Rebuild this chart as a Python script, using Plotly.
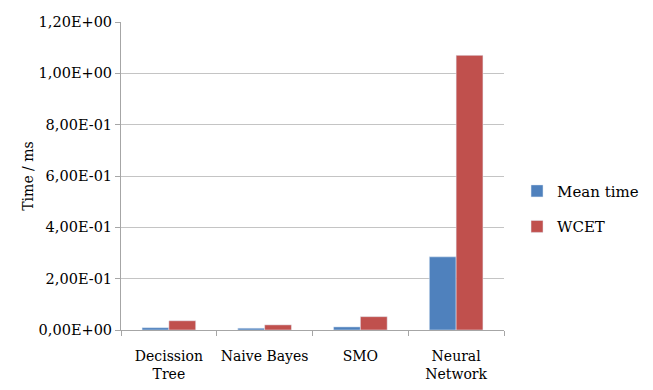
import plotly.graph_objects as go

categories = ["Decission<br>Tree", "Naive Bayes", "SMO", "Neural<br>Network"]
mean_time = [0.009, 0.007, 0.012, 0.285]
wcet = [0.036, 0.020, 0.052, 1.07]
tick_vals = [0, 0.2, 0.4, 0.6, 0.8, 1.0, 1.2]
tick_text = ["0,00E+00", "2,00E-01", "4,00E-01", "6,00E-01", "8,00E-01", "1,00E+00", "1,20E+00"]

FAM = "DejaVu Serif"
yfont = dict(family=FAM, size=14.5, color="#000000")
xfont = dict(family=FAM, size=14, color="#000000")

fig = go.Figure()
fig.add_trace(go.Bar(x=categories, y=mean_time, name="Mean time", marker_color="#4F81BD",
                     legendgroup="a"))
fig.add_trace(go.Bar(x=categories, y=wcet, name="WCET", marker_color="#C0504D",
                     legendgroup="b"))

# page has an 8px body margin, so the figure is sized/positioned to compensate
fig.update_layout(
    width=645, height=382,
    margin=dict(l=113, r=149, t=14, b=60, autoexpand=False),
    paper_bgcolor="white", plot_bgcolor="white",
    barmode="group", bargap=0.44, bargroupgap=0,
    font=yfont,
    showlegend=True,
    legend=dict(x=1.034, y=0.394, xanchor="left", yanchor="middle",
                font=dict(family=FAM, size=15, color="#000000"),
                traceorder="grouped", tracegroupgap=13, itemwidth=30),
    xaxis=dict(showline=True, linecolor="#a6a6a6", linewidth=1,
               ticks="outside", tickson="boundaries", ticklen=5, tickcolor="#a6a6a6",
               tickfont=xfont, tickangle=0, ticklabelstandoff=13, automargin=False),
    yaxis=dict(range=[0, 1.2], tickvals=tick_vals, ticktext=tick_text,
               showline=True, linecolor="#a6a6a6", linewidth=1,
               ticks="outside", ticklen=5, tickcolor="#a6a6a6",
               showgrid=True, gridcolor="#c4c4c4", gridwidth=1,
               zeroline=False, tickfont=yfont, automargin=False,
               title=dict(text="Time / ms", font=dict(family=FAM, size=14, color="#000000"),
                          standoff=1)),
)

fig.write_html("out.html")
